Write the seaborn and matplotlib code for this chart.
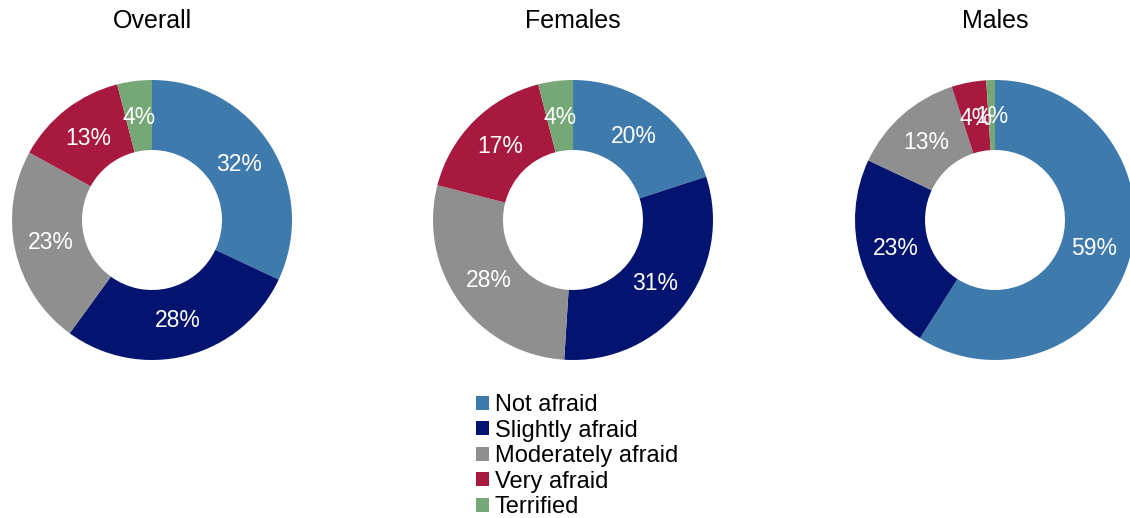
import matplotlib
matplotlib.use("Agg")
import matplotlib.pyplot as plt
import seaborn as sns
from matplotlib.patches import Patch

sns.set_theme(style="white")
plt.rcParams['font.family'] = ['Liberation Sans', 'DejaVu Sans']
plt.rcParams['text.color'] = 'black'

categories = ["Not afraid", "Slightly afraid", "Moderately afraid", "Very afraid", "Terrified"]
groups = ["Overall", "Females", "Males"]
overall = [32, 28, 23, 13, 4]
females = [20, 31, 28, 17, 4]
males = [59, 23, 13, 4, 1]
colors = ["#3F7AAD", "#02146F", "#8F8F8F", "#A8193F", "#76A877"]

W, H = 1130, 518
fig = plt.figure(figsize=(W / 100, H / 100), dpi=100)
ax = fig.add_axes([0, 0, 1, 1])
ax.set_xlim(0, W)
ax.set_ylim(0, H)
ax.set_aspect("equal")
ax.axis("off")

centers_x = [152, 573, 995]
cy = H - 220
R = 140
for name, vals, cx in zip(groups, [overall, females, males], centers_x):
    wedges, texts, autotexts = ax.pie(
        vals, colors=colors, startangle=90, counterclock=False,
        center=(cx, cy), radius=R, autopct=lambda p: f"{p:.0f}%",
        pctdistance=0.74, wedgeprops=dict(width=R * 0.5, linewidth=0),
        textprops=dict(color="white", fontsize=16.5), frame=False)
    ax.text(cx, H - 21, name, ha="center", va="center", fontsize=18, color="black")

ax.set_xlim(0, W)
ax.set_ylim(0, H)

handles = [Patch(facecolor=c, edgecolor="none") for c in colors]
leg = fig.legend(handles, categories, loc="upper left", bbox_to_anchor=(476 / W, 1 - 394 / H),
                 frameon=False, fontsize=17, handlelength=0.55, handleheight=0.55,
                 handletextpad=0.25, labelspacing=0.15, borderpad=0, borderaxespad=0)
for t in leg.get_texts():
    t.set_color("black")

fig.savefig("out.png", dpi=100)
